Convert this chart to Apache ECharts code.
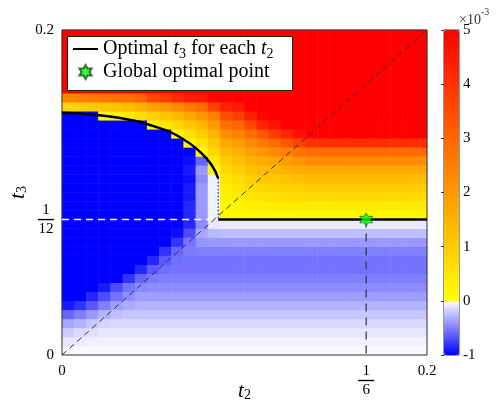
<!DOCTYPE html>
<html>
<head>
<meta charset="utf-8">
<script src="https://cdn.jsdelivr.net/npm/echarts@6/dist/echarts.min.js"></script>
<style>
  html, body { margin: 0; padding: 0; background: #fff; }
  #chart { width: 497px; height: 405px; }
</style>
</head>
<body>
<div id="chart"></div>
<script>
// cost difference, units of 1e-3; rows go up in t3 (0 .. 0.2), columns go right in t2 (0 .. 0.2)
const zRowsBelow = [
  [-0.03,-0.03,-0.03,-0.03,-0.03,-0.03,-0.03,-0.03,-0.03,-0.03, -0.03,-0.03,-0.03,-0.03,-0.03,-0.03,-0.03,-0.03,-0.03,-0.03, -0.03,-0.03,-0.03,-0.03,-0.03,-0.03,-0.03,-0.03,-0.03,-0.03],
  [-0.10,-0.07,-0.06,-0.06,-0.06,-0.06,-0.06,-0.06,-0.06,-0.06, -0.06,-0.06,-0.06,-0.06,-0.06,-0.06,-0.06,-0.06,-0.06,-0.06, -0.06,-0.06,-0.06,-0.06,-0.06,-0.06,-0.06,-0.06,-0.06,-0.06],
  [-0.20,-0.15,-0.12,-0.10,-0.10,-0.10,-0.10,-0.10,-0.10,-0.10, -0.10,-0.10,-0.10,-0.10,-0.10,-0.10,-0.10,-0.10,-0.10,-0.10, -0.10,-0.10,-0.10,-0.10,-0.10,-0.10,-0.10,-0.10,-0.10,-0.10],
  [-0.35,-0.30,-0.22,-0.17,-0.15,-0.15,-0.15,-0.15,-0.15,-0.15, -0.15,-0.15,-0.15,-0.15,-0.15,-0.15,-0.15,-0.15,-0.15,-0.15, -0.15,-0.15,-0.15,-0.15,-0.15,-0.15,-0.15,-0.15,-0.15,-0.15],
  [-0.60,-0.50,-0.40,-0.30,-0.25,-0.22,-0.22,-0.22,-0.22,-0.22, -0.22,-0.22,-0.22,-0.22,-0.22,-0.22,-0.22,-0.22,-0.22,-0.22, -0.22,-0.22,-0.22,-0.22,-0.22,-0.22,-0.22,-0.22,-0.22,-0.22],
  [-0.90,-0.80,-0.65,-0.50,-0.38,-0.32,-0.30,-0.30,-0.30,-0.30, -0.30,-0.30,-0.30,-0.30,-0.30,-0.30,-0.30,-0.30,-0.30,-0.30, -0.30,-0.30,-0.30,-0.30,-0.30,-0.30,-0.30,-0.30,-0.30,-0.30],
  [-1,-1,-0.85,-0.70,-0.55,-0.45,-0.38,-0.38,-0.38,-0.38, -0.38,-0.38,-0.38,-0.38,-0.38,-0.38,-0.38,-0.38,-0.38,-0.38, -0.38,-0.38,-0.38,-0.38,-0.38,-0.38,-0.38,-0.38,-0.38,-0.38],
  [-1,-1,-1,-0.90,-0.70,-0.55,-0.47,-0.45,-0.45,-0.45, -0.45,-0.45,-0.45,-0.45,-0.45,-0.45,-0.45,-0.45,-0.45,-0.45, -0.45,-0.45,-0.45,-0.45,-0.45,-0.45,-0.45,-0.45,-0.45,-0.45],
  [-1,-1,-1,-1,-1,-0.80,-0.60,-0.52,-0.50,-0.50, -0.50,-0.50,-0.50,-0.50,-0.50,-0.50,-0.50,-0.50,-0.50,-0.50, -0.50,-0.50,-0.50,-0.50,-0.50,-0.50,-0.50,-0.50,-0.50,-0.50],
  [-1,-1,-1,-1,-1,-1,-0.85,-0.65,-0.56,-0.55, -0.55,-0.55,-0.55,-0.55,-0.55,-0.55,-0.55,-0.55,-0.55,-0.55, -0.55,-0.55,-0.55,-0.55,-0.55,-0.55,-0.55,-0.55,-0.55,-0.55],
  [-1,-1,-1,-1,-1,-1,-1,-0.85,-0.65,-0.56, -0.55,-0.55,-0.55,-0.55,-0.55,-0.55,-0.55,-0.55,-0.55,-0.55, -0.55,-0.55,-0.55,-0.55,-0.55,-0.55,-0.55,-0.55,-0.55,-0.55],
  [-1,-1,-1,-1,-1,-1,-1,-1,-0.80,-0.60, -0.52,-0.50,-0.50,-0.50,-0.50,-0.50,-0.50,-0.50,-0.50,-0.50, -0.50,-0.50,-0.50,-0.50,-0.50,-0.50,-0.50,-0.50,-0.50,-0.50],
  [-1,-1,-1,-1,-1,-1,-1,-1,-1,-0.80, -0.55,-0.42,-0.40,-0.40,-0.40,-0.40,-0.40,-0.40,-0.40,-0.40, -0.40,-0.40,-0.40,-0.40,-0.40,-0.40,-0.40,-0.40,-0.40,-0.40],
  [-1,-1,-1,-1,-1,-1,-1,-1,-1,-0.95, -0.70,-0.35,-0.27,-0.25,-0.25,-0.25,-0.25,-0.25,-0.25,-0.25, -0.25,-0.25,-0.25,-0.25,-0.25,-0.25,-0.25,-0.25,-0.25,-0.25],
  [-1,-1,-1,-1,-1,-1,-1,-1,-1,-1, -0.85,-0.45,-0.10,-0.08,-0.08,-0.08,-0.08,-0.08,-0.08,-0.08, -0.08,-0.08,-0.08,-0.08,-0.08,-0.08,-0.08,-0.08,-0.08,-0.08]
];
const zRowsAbove = [
  [-1,-1,-1,-1,-1,-1,-1,-1,-1,-1, -0.85,-0.40,-0.05,0.05,0.08,0.10,0.13,0.13,0.14,0.15, 0.15,0.15,0.15,0.15,0.15,0.15,0.15,0.15,0.15,0.15],
  [-1,-1,-1,-1,-1,-1,-1,-1,-1,-1, -0.85,-0.40,-0.05,0.12,0.20,0.27,0.33,0.36,0.37,0.39, 0.40,0.40,0.40,0.40,0.40,0.40,0.40,0.40,0.40,0.40],
  [-1,-1,-1,-1,-1,-1,-1,-1,-1,-1, -0.90,-0.40,-0.05,0.22,0.35,0.47,0.55,0.60,0.63,0.66, 0.70,0.70,0.70,0.70,0.70,0.70,0.70,0.70,0.70,0.70],
  [-1,-1,-1,-1,-1,-1,-1,-1,-1,-1, -0.90,-0.40,-0.05,0.35,0.50,0.68,0.78,0.85,0.90,0.95, 1.00,1.00,1.00,1.00,1.00,1.00,1.00,1.00,1.00,1.00],
  [-1,-1,-1,-1,-1,-1,-1,-1,-1,-1, -0.95,-0.45,-0.05,0.50,0.70,0.90,1.05,1.10,1.18,1.25, 1.30,1.30,1.30,1.30,1.30,1.30,1.30,1.30,1.30,1.30],
  [-1,-1,-1,-1,-1,-1,-1,-1,-1,-1, -0.90,-0.40,0.08,0.70,0.95,1.15,1.30,1.40,1.50,1.60, 1.70,1.70,1.70,1.70,1.70,1.70,1.70,1.70,1.70,1.70],
  [-1,-1,-1,-1,-1,-1,-1,-1,-1,-1, -0.95,-0.60,0.38,1.00,1.25,1.45,1.65,1.75,1.95,2.10, 2.25,2.25,2.25,2.25,2.25,2.25,2.25,2.25,2.25,2.25],
  [-1,-1,-1,-1,-1,-1,-1,-1,-1,-1, -1,0.12,0.72,1.30,1.55,1.85,2.05,2.30,2.50,2.75, 2.90,2.90,2.90,2.90,2.90,2.90,2.90,2.90,2.90,2.90],
  [-1,-1,-1,-1,-1,-1,-1,-1,-1,-1, 0.12,0.50,1.05,1.70,1.95,2.30,2.60,2.90,3.30,3.70, 4.00,4.10,4.10,4.10,4.10,4.10,4.10,4.10,4.10,4.10],
  [-1,-1,-1,-1,-1,-1,-1,-1,-1,0.20, 0.60,0.95,1.45,2.20,2.45,2.85,3.30,3.85,4.30,4.65, 4.95,5,5,5,5,5,5,5,5,5],
  [-1,-1,-1,-1,-1,-1,-1,0.15,0.50,0.75, 1.10,1.35,1.95,2.80,3.00,3.60,4.25,4.65,5,5, 5,5,5,5,5,5,5,5,5,5],
  [-1,-1,-1,0.10,0.25,0.42,0.65,0.90,1.10,1.35, 1.75,2.05,2.50,3.50,3.80,4.40,4.90,5,5,5, 5,5,5,5,5,5,5,5,5,5],
  [0.80,0.90,1.00,1.10,1.20,1.35,1.50,1.80,2.00,2.30, 2.60,2.90,3.70,4.30,4.50,5,5,5,5,5, 5,5,5,5,5,5,5,5,5,5],
  [2.40,2.50,2.60,2.70,2.80,2.80,3.00,3.60,3.80,4.20, 4.40,4.50,4.90,4.90,5,5,5,5,5,5, 5,5,5,5,5,5,5,5,5,5],
  [5,5,5,5,5,5,5,5,5,5, 5,5,5,5,5,5,5,5,5,5, 5,5,5,5,5,5,5,5,5,5],
  [5,5,5,5,5,5,5,5,5,5, 5,5,5,5,5,5,5,5,5,5, 5,5,5,5,5,5,5,5,5,5],
  [5,5,5,5,5,5,5,5,5,5, 5,5,5,5,5,5,5,5,5,5, 5,5,5,5,5,5,5,5,5,5],
  [5,5,5,5,5,5,5,5,5,5, 5,5,5,5,5,5,5,5,5,5, 5,5,5,5,5,5,5,5,5,5],
  [5,5,5,5,5,5,5,5,5,5, 5,5,5,5,5,5,5,5,5,5, 5,5,5,5,5,5,5,5,5,5],
  [5,5,5,5,5,5,5,5,5,5, 5,5,5,5,5,5,5,5,5,5, 5,5,5,5,5,5,5,5,5,5],
  [5,5,5,5,5,5,5,5,5,5, 5,5,5,5,5,5,5,5,5,5, 5,5,5,5,5,5,5,5,5,5]
];

// optimal t3 for each t2 (curved part, then jump, then flat at 1/12)
const curveT2 = [0, 0.0144, 0.0327, 0.0510, 0.0656, 0.0765, 0.0820, 0.0856];
const curveT3 = [0.1491, 0.1481, 0.1457, 0.1405, 0.1334, 0.1241, 0.1169, 0.1087];
const jumpT2 = [0.0856, 0.0856];
const jumpT3 = [0.1087, 1 / 12];
const flatT2 = [0.0856, 0.2];
const flatT3 = [1 / 12, 1 / 12];
const diagT = [0, 0.2];
const whiteT2 = [0, 1 / 12];
const whiteT3 = [1 / 12, 1 / 12];
const starT2 = [1 / 6];
const starT3 = [1 / 12];
const dropT3 = [1 / 12, 0];

const xTickValues = [0, 1 / 6, 0.2];
const xTickLabels = ['0', '1/6', '0.2'];
const yTickValues = [0, 1 / 12, 0.2];
const yTickLabels = ['0', '1/12', '0.2'];

const zRows = zRowsBelow.concat(zRowsAbove);
const heatData = [];
zRows.forEach((row, i) => row.forEach((v, j) => heatData.push([j, i, v])));
const colCats = zRows[0].map((_, j) => j);
const rowCats = zRows.map((_, i) => i);

// colormap: white->blue below zero, yellow->red above
const cmap = [];
for (let k = 0; k <= 600; k++) {
  const v = -1 + k / 100;
  if (v < 0) {
    const c = Math.round(255 * (1 + v));
    cmap.push('rgb(' + c + ',' + c + ',255)');
  } else {
    cmap.push('rgb(255,' + Math.round(255 * (1 - v / 5)) + ',0)');
  }
}

const serif = 'Liberation Serif';
const frac = (num, den) => '{n|' + num + '}\n{b| }\n{n|' + den + '}';
const fracRich = {
  n: { fontFamily: serif, fontSize: 15, color: '#000', lineHeight: 14, align: 'center' },
  b: { width: 16, height: 1.4, lineHeight: 5, backgroundColor: '#000', fontSize: 1, align: 'center' },
  m: { fontFamily: serif, fontSize: 15, color: '#000' }
};
function tickText(vals, labels) {
  return v => {
    const k = vals.findIndex(t => Math.abs(t - v) < 1e-9);
    const s = k < 0 ? '' : labels[k];
    if (s.indexOf('/') > 0) { const p = s.split('/'); return frac(p[0], p[1]); }
    return '{m|' + s + '}';
  };
}
const subRich = {
  t: { fontFamily: serif, fontStyle: 'italic', fontSize: 21, color: '#000', lineHeight: 22, verticalAlign: 'middle' },
  s: { fontFamily: serif, fontSize: 14, color: '#000', lineHeight: 22, verticalAlign: 'bottom' }
};

const pts = (xs, ys) => xs.map((x, k) => [x, ys[k]]);
const starPath = 'path://M50 0L64.4 25L93.3 25L78.9 50L93.3 75L64.4 75L50 100L35.6 75L6.7 75L21.1 50L6.7 25L35.6 25Z';
const optName = 'Optimal t3 for each t2';
const starName = 'Global optimal point';

const chart = echarts.init(document.getElementById('chart'));
chart.setOption({
  animation: false,
  grid: [
    { left: 62, top: 30, width: 365, height: 325, outerBoundsMode: 'none' },
    { left: 62, top: 30, width: 365, height: 325, outerBoundsMode: 'none', show: true, borderColor: '#333', borderWidth: 1, backgroundColor: 'transparent', z: 3 },
    { left: 444, top: 30, width: 15, height: 325, outerBoundsMode: 'none', show: true, borderColor: '#333', borderWidth: 1, backgroundColor: 'transparent', z: 3 }
  ],
  xAxis: [
    { type: 'category', gridIndex: 0, data: colCats, show: false },
    {
      type: 'value', gridIndex: 1, min: 0, max: 0.2,
      axisLine: { show: false }, splitLine: { show: false }, axisTick: { show: false },
      axisLabel: { customValues: xTickValues, margin: 9, formatter: tickText(xTickValues, xTickLabels), rich: fracRich },
      name: '{t|t}{s|2}', nameLocation: 'middle', nameGap: 25, nameMoveOverlap: false,
      nameTextStyle: { rich: subRich }
    },
    { type: 'value', gridIndex: 2, show: false, min: 0, max: 1 }
  ],
  yAxis: [
    { type: 'category', gridIndex: 0, data: rowCats, show: false },
    {
      type: 'value', gridIndex: 1, min: 0, max: 0.2,
      axisLine: { show: false }, splitLine: { show: false }, axisTick: { show: false },
      axisLabel: { customValues: yTickValues, margin: 8, formatter: tickText(yTickValues, yTickLabels), rich: fracRich },
      name: '{t|t}{s|3}', nameLocation: 'middle', nameGap: 33, nameRotate: 90, nameMoveOverlap: false,
      nameTextStyle: { rich: subRich }
    },
    {
      type: 'value', gridIndex: 2, min: -1, max: 5, interval: 1, position: 'right',
      axisLine: { show: false }, splitLine: { show: false },
      axisTick: { show: true, inside: true, length: 3, lineStyle: { color: '#333' } },
      axisLabel: { margin: 4, fontFamily: serif, fontSize: 15, color: '#000' }
    }
  ],
  visualMap: {
    type: 'continuous', min: -1, max: 5, seriesIndex: 0, calculable: false,
    left: 444, top: 30, itemWidth: 15, itemHeight: 325, padding: 0,
    inRange: { color: cmap }, text: null, hoverLink: false
  },
  legend: {
    left: 67, top: 39, orient: 'vertical', padding: [0, 5, 0, 5],
    itemWidth: 25, itemHeight: 14, itemGap: 1, itemTextGap: 3, selectedMode: false, z: 10,
    data: [{ name: optName, itemStyle: { opacity: 0 } }, starName],
    formatter: n => n === optName
      ? '{r|Optimal }{i|t}{s|3}{r| for each }{i|t}{s|2}'
      : '{r|' + n + '}',
    textStyle: {
      rich: {
        r: { fontFamily: serif, fontSize: 20, color: '#000', lineHeight: 24, verticalAlign: 'middle' },
        i: { fontFamily: serif, fontStyle: 'italic', fontSize: 20, color: '#000', lineHeight: 24, verticalAlign: 'middle' },
        s: { fontFamily: serif, fontSize: 14, color: '#000', lineHeight: 24, verticalAlign: 'bottom' }
      }
    }
  },
  graphic: [
    { type: 'rect', left: 67, top: 36, z: 5, shape: { width: 225, height: 54 }, style: { fill: '#fff', stroke: '#222', lineWidth: 1 } },
    {
      type: 'text', left: 459, top: 7, z: 5,
      style: {
        text: '{a|×10}{b|-3}',
        rich: {
          a: { fontFamily: serif, fontSize: 14, fill: '#333', lineHeight: 20, verticalAlign: 'bottom' },
          b: { fontFamily: serif, fontSize: 10, fill: '#333', lineHeight: 20, verticalAlign: 'top' }
        }
      }
    }
  ],
  series: [
    { type: 'heatmap', xAxisIndex: 0, yAxisIndex: 0, data: heatData, progressive: 0, silent: true },
    {
      name: optName, type: 'line', xAxisIndex: 1, yAxisIndex: 1, smooth: true, symbol: 'none', z: 4,
      data: pts(curveT2, curveT3), lineStyle: { color: '#000', width: 2.5 }, itemStyle: { color: '#000' }
    },
    {
      name: 'flat', type: 'line', xAxisIndex: 1, yAxisIndex: 1, symbol: 'none', z: 4,
      data: pts(flatT2, flatT3), lineStyle: { color: '#000', width: 2.5 }
    },
    {
      name: 'jump', type: 'line', xAxisIndex: 1, yAxisIndex: 1, symbol: 'none', z: 4,
      data: pts(jumpT2, jumpT3), lineStyle: { color: '#222', width: 1.2, type: [1.5, 2] }
    },
    {
      name: 'diagonal', type: 'line', xAxisIndex: 1, yAxisIndex: 1, symbol: 'none', z: 3,
      data: pts(diagT, diagT), lineStyle: { color: '#333', width: 1, type: [6, 4] }
    },
    {
      name: 'white', type: 'line', xAxisIndex: 1, yAxisIndex: 1, symbol: 'none', z: 3,
      data: pts(whiteT2, whiteT3), lineStyle: { color: '#fff', width: 1.5, type: [7, 5] }
    },
    {
      name: 'drop', type: 'line', xAxisIndex: 1, yAxisIndex: 1, symbol: 'none', z: 3,
      data: pts([starT2[0], starT2[0]], dropT3), lineStyle: { color: '#333', width: 1.2, type: [8, 6] }
    },
    {
      name: starName, type: 'scatter', xAxisIndex: 1, yAxisIndex: 1, z: 6,
      symbol: starPath, symbolSize: 13,
      data: pts(starT2, starT3),
      itemStyle: { color: '#00ff00', borderColor: '#1e4d1e', borderWidth: 0.8 }
    }
  ]
});
</script>
</body>
</html>
